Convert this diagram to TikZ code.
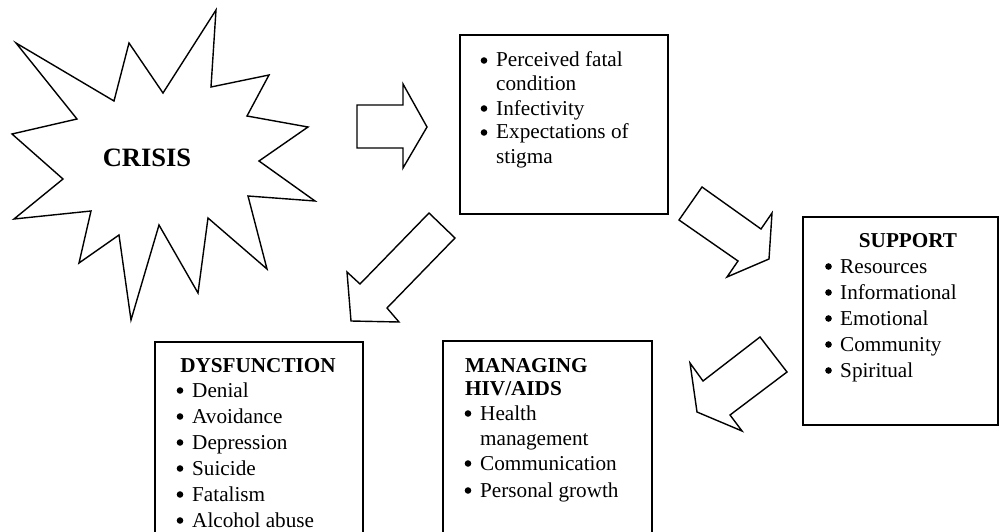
\documentclass[tikz,border=0pt]{standalone}
\usepackage{fontspec}
\setmainfont{Liberation Serif}
\begin{document}
\begin{tikzpicture}[x=1pt,y=-1pt,
  box/.style={draw, line width=1.6pt, inner sep=0pt},
  blk/.style={draw, line width=1.4pt, line join=miter},
  txt/.style={anchor=base west, inner sep=0pt, font=\fontsize{21.2}{25}\selectfont},
  dot/.style={circle, fill, inner sep=0pt, minimum size=6.6pt},
  hd/.style={txt, font=\fontsize{21.2}{25}\selectfont\bfseries},
  hdc/.style={hd, anchor=base}]
\useasboundingbox (0,0) rectangle (1000,532);
\clip (0,0) rectangle (1000,532);

% starburst
\draw[blk] (16,43) -- (114,101) -- (129,43) -- (163,93) -- (216,10) -- (211,87)
  -- (269,75) -- (247,116) -- (308,127) -- (259,161) -- (315,201) -- (248,196)
  -- (267,269) -- (208,218) -- (198,293) -- (159,225) -- (131,320) -- (119,235)
  -- (79,263) -- (91,211) -- (14,219) -- (63,179) -- (12,134) -- (77,119) -- cycle;
\node[anchor=base, inner sep=0pt, font=\fontsize{26.5}{30}\selectfont\bfseries] (crisis) at (147,166) {CRISIS};

% block arrows
\draw[blk] (357,105) -- (403,105) -- (403,84) -- (427,127) -- (403,168) -- (403,148) -- (357,148) -- cycle;
\draw[blk] (429,213) -- (455,238) -- (387,308) -- (399,322) -- (351,321) -- (347,272) -- (360,284) -- cycle;
\draw[blk] (702,187) -- (679,220) -- (738,261) -- (727,277) -- (769,259) -- (772,213) -- (761,229) -- cycle;
\draw[blk] (760,337) -- (787,372) -- (730,415) -- (742,431) -- (697,412) -- (690,363) -- (703,381) -- cycle;

% boxes
\node[box, minimum width=208pt, minimum height=179pt] (perc) at (564,124.5) {};
\node[box, minimum width=195pt, minimum height=208pt] (supp) at (900.5,321) {};
\node[box, minimum width=208pt, minimum height=218pt] (dys) at (259,451) {};
\node[box, minimum width=209pt, minimum height=219pt] (man) at (547.5,450.5) {};

% perceived box text
\node[dot] (p1b) at (484,60.5) {};
\node[txt] (p1) at (496,67) {Perceived fatal};
\node[txt] (p1c) at (496,91) {condition};
\node[dot] (p2b) at (484,108.5) {};
\node[txt] (p2) at (496,115) {Infectivity};
\node[dot] (p3b) at (484,132.5) {};
\node[txt] (p3) at (496,139) {Expectations of};
\node[txt] (p3c) at (496,163) {stigma};

% support text
\node[hdc] (sh) at (908,247) {SUPPORT};
\foreach \t [count=\i from 0] in {Resources,Informational,Emotional,Community,Spiritual}{
  \node[dot] (s\i b) at (828.5,266.5+26*\i) {};
  \node[txt] (s\i) at (840,273+26*\i) {\t};
}

% dysfunction text
\node[hdc] (dh) at (258,372) {DYSFUNCTION};
\foreach \t [count=\i from 0] in {Denial,Avoidance,Depression,Suicide,Fatalism,Alcohol abuse}{
  \node[dot] (d\i b) at (180,390.5+26*\i) {};
  \node[txt] (d\i) at (192,397+26*\i) {\t};
}

% managing text
\node[hd] (mh1) at (465,372) {MANAGING};
\node[hd] (mh2) at (465,395) {HIV/AIDS};
\node[dot] (m1b) at (468,413.5) {};
\node[txt] (m1) at (480,420) {Health};
\node[txt] (m1c) at (480,445) {management};
\node[dot] (m2b) at (468,463.5) {};
\node[txt] (m2) at (480,470) {Communication};
\node[dot] (m3b) at (468,490.5) {};
\node[txt] (m3) at (480,497) {Personal growth};
\end{tikzpicture}
\end{document}
